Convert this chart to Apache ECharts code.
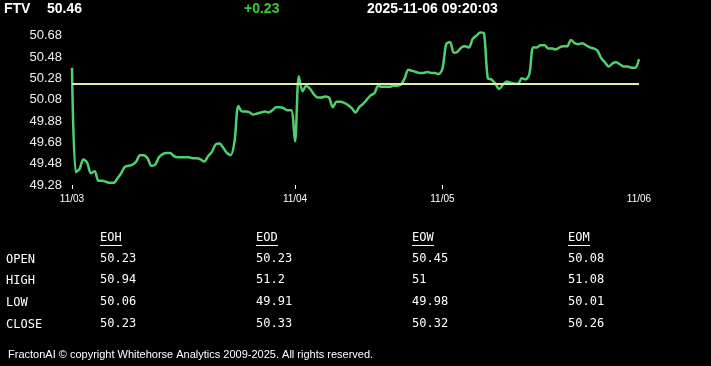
<!DOCTYPE html>
<html>
<head>
<meta charset="utf-8">
<script src="https://cdn.jsdelivr.net/npm/echarts@6/dist/echarts.min.js"></script>
<style>
html,body{margin:0;padding:0;background:#000;}
#c{width:711px;height:366px;}
</style>
</head>
<body>
<div id="c"></div>
<script>
// ---- data ----
const symbol = 'FTV';
const lastPrice = '50.46';
const change = '+0.23';
const stamp = '2025-11-06 09:20:03';
const prevClose = 50.23;
const dayLabels = ['11/03', '11/04', '11/05', '11/06'];
const dayStartIndex = [0, 59, 98, 150];
const yMin = 49.28, yMax = 50.68, yStep = 0.2;
const prices = [
50.38, 49.40, 49.43, 49.52, 49.49, 49.39, 49.41, 49.32, 49.32, 49.31,
49.30, 49.30, 49.34, 49.39, 49.45, 49.46, 49.47, 49.50, 49.56, 49.56,
49.53, 49.46, 49.47, 49.54, 49.57, 49.58, 49.58, 49.55, 49.54, 49.54,
49.54, 49.54, 49.53, 49.53, 49.52, 49.50, 49.55, 49.59, 49.66, 49.67,
49.63, 49.58, 49.56, 49.69, 50.02, 49.97, 49.97, 49.96, 49.94, 49.95,
49.96, 49.97, 49.96, 49.98, 50.01, 50.01, 50.00, 49.98, 49.98, 49.69,
50.30, 50.16, 50.21, 50.18, 50.13, 50.10, 50.10, 50.11, 50.10, 50.01,
50.06, 50.06, 50.05, 50.03, 50.00, 49.96, 50.01, 50.04, 50.08, 50.12,
50.14, 50.21, 50.20, 50.20, 50.20, 50.21, 50.21, 50.22, 50.28, 50.36,
50.35, 50.34, 50.33, 50.33, 50.34, 50.33, 50.33, 50.32, 50.37, 50.60,
50.62, 50.52, 50.53, 50.57, 50.58, 50.57, 50.65, 50.68, 50.71, 50.70,
50.28, 50.27, 50.23, 50.18, 50.22, 50.25, 50.24, 50.23, 50.23, 50.28,
50.27, 50.32, 50.57, 50.57, 50.59, 50.59, 50.56, 50.56, 50.55, 50.57,
50.58, 50.58, 50.64, 50.61, 50.60, 50.61, 50.59, 50.57, 50.56, 50.54,
50.47, 50.43, 50.39, 50.42, 50.43, 50.41, 50.39, 50.39, 50.38, 50.38,
50.46
];
const tableHeaders = ['EOH', 'EOD', 'EOW', 'EOM'];
const rowLabels = ['OPEN', 'HIGH', 'LOW', 'CLOSE'];
const openVals  = ['50.23', '50.23', '50.45', '50.08'];
const highVals  = ['50.94', '51.2', '51', '51.08'];
const lowVals   = ['50.06', '49.91', '49.98', '50.01'];
const closeVals = ['50.23', '50.33', '50.32', '50.26'];
const footer = 'FractonAI \u00A9 copyright Whitehorse Analytics 2009-2025. All rights reserved.';

// ---- chart ----
const categories = prices.map((_, i) => String(i));
const rows = [openVals, highVals, lowVals, closeVals];
const colX = [100, 256, 412, 568];
const rowY = [260, 281, 303, 325];
const mono = '"DejaVu Sans Mono", monospace';
const sans = '"Liberation Sans", Arial, sans-serif';

const graphics = [];
graphics.push({type:'text', left:4, top:2, style:{text:symbol, fill:'#fff', font:'bold 14px ' + sans}});
graphics.push({type:'text', left:47, top:2, style:{text:lastPrice, fill:'#fff', font:'bold 14px ' + sans}});
graphics.push({type:'text', left:244, top:2, style:{text:change, fill:'#33cc33', font:'bold 14px ' + sans}});
graphics.push({type:'text', left:367, top:2, style:{text:stamp, fill:'#fff', font:'bold 14px ' + sans}});
tableHeaders.forEach((h, j) => {
  graphics.push({type:'text', x:colX[j], y:232, style:{text:h, fill:'#fff', font:'12px ' + mono}});
  graphics.push({type:'line', shape:{x1:colX[j], y1:245.5, x2:colX[j] + 22, y2:245.5}, style:{stroke:'#fff', lineWidth:1}});
});
rowLabels.forEach((r, i) => {
  graphics.push({type:'text', x:6, y:rowY[i] - 6, style:{text:r, fill:'#fff', font:'12px ' + mono}});
  rows[i].forEach((v, j) => {
    graphics.push({type:'text', x:colX[j], y:rowY[i] - 7, style:{text:v, fill:'#fff', font:'12px ' + mono}});
  });
});
graphics.push({type:'text', x:8, y:349, style:{text:footer, fill:'#fff', font:'11px ' + sans}});

const chart = echarts.init(document.getElementById('c'), null, {renderer:'canvas'});
chart.setOption({
  backgroundColor: '#000',
  animation: false,
  grid: {left:72, right:72, top:35.67, bottom:181, containLabel:false},
  xAxis: {
    type: 'category',
    data: categories,
    boundaryGap: false,
    axisLine: {show:false},
    axisTick: {show:true, length:4, lineStyle:{color:'#fff', width:1},
      interval: (i) => dayStartIndex.slice(0, 3).indexOf(i) >= 0},
    axisLabel: {
      color:'#fff', fontSize:10, margin:9, fontFamily: sans,
      interval: (i) => dayStartIndex.indexOf(i) >= 0,
      formatter: (v, i) => { const k = dayStartIndex.indexOf(i); return k >= 0 ? dayLabels[k] : ''; }
    },
    splitLine: {show:false}
  },
  yAxis: {
    type: 'value',
    min: yMin, max: yMax, interval: yStep,
    axisLine: {show:false}, axisTick: {show:false}, splitLine: {show:false},
    axisLabel: {color:'#eee', fontSize:13, margin:10, fontFamily: sans,
      formatter: (v) => v.toFixed(2)}
  },
  series: [{
    type: 'line',
    data: prices,
    smooth: 0.3,
    clip: false,
    symbol: 'none',
    lineStyle: {color:'#4fd06f', width:2.5},
    markLine: {
      silent: true, symbol: 'none', label: {show:false},
      lineStyle: {color:'#dcefa4', width:2, type:'solid'},
      data: [{yAxis: prevClose}]
    },
    z: 3
  }],
  graphic: graphics
});
</script>
</body>
</html>
